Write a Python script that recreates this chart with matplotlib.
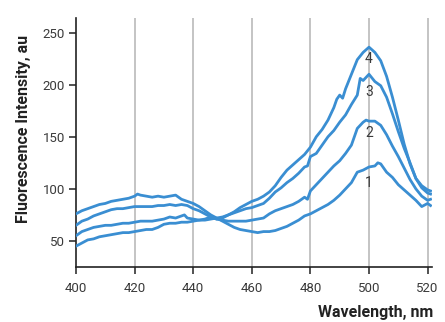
import matplotlib
matplotlib.use("Agg")
import matplotlib.pyplot as plt

plt.rcParams['font.family'] = ['Roboto', 'DejaVu Sans']

# Wavelength (nm) / intensity (au)
wl1 = [400, 402, 404, 406, 408, 410, 412, 414, 416, 418, 420, 421, 422, 424, 426, 428, 430, 432, 434, 436, 438, 440,
       442, 444, 446, 448, 450, 452, 454, 456, 458, 460, 462, 464, 466, 468, 470, 472, 474, 476, 478, 480, 482, 484,
       486, 488, 490, 492, 494, 496, 498, 500, 502, 503, 504, 506, 508, 510, 512, 514, 516, 518, 520, 521]
c1 = [76, 79, 81, 83, 85, 86, 88, 89, 90, 91, 93, 95, 94, 93, 92, 93, 92, 93, 94, 90, 88, 86,
      83, 79, 75, 72, 69, 66, 63, 61, 60, 59, 58, 59, 59, 60, 62, 64, 67, 70, 74, 76, 79, 82,
      85, 89, 94, 100, 106, 116, 118, 121, 122, 125, 124, 116, 111, 104, 99, 94, 89, 83, 86, 84]

wl2 = [400, 402, 404, 406, 408, 410, 412, 414, 416, 418, 420, 422, 424, 426, 428, 430, 432, 434, 436, 438, 440,
       442, 444, 446, 448, 450, 452, 454, 456, 458, 460, 462, 464, 466, 468, 470, 472, 474, 476, 478, 479, 480,
       482, 484, 486, 488, 490, 492, 494, 496, 497, 498, 499, 500, 502, 504, 506, 508, 510, 512, 514, 516, 518,
       520, 521]
c2 = [65, 69, 71, 74, 76, 78, 80, 81, 81, 82, 83, 83, 83, 83, 84, 84, 85, 84, 85, 84, 81,
      79, 76, 73, 71, 70, 69, 69, 69, 69, 70, 71, 72, 76, 79, 81, 83, 85, 88, 92, 90, 98,
      104, 110, 116, 122, 127, 134, 142, 158, 161, 164, 166, 165, 165, 161, 152, 141, 131, 120, 109, 100, 93,
      89, 90]

wl3 = [400, 402, 404, 406, 408, 410, 412, 414, 416, 418, 420, 422, 424, 426, 428, 430, 432, 434, 436, 437, 438,
       440, 442, 444, 446, 448, 450, 452, 454, 456, 458, 460, 462, 464, 466, 468, 470, 472, 474, 476, 478, 479,
       480, 482, 484, 486, 488, 490, 492, 494, 496, 497, 498, 499, 500, 502, 504, 506, 508, 510, 512, 514, 516,
       518, 520, 521]
c3 = [55, 59, 61, 63, 64, 65, 65, 66, 67, 67, 68, 69, 69, 69, 70, 71, 73, 72, 74, 75, 72,
      71, 70, 70, 71, 72, 73, 75, 77, 79, 81, 82, 84, 86, 91, 97, 101, 106, 110, 115, 121, 122,
      131, 134, 142, 150, 156, 164, 171, 181, 190, 206, 204, 207, 210, 203, 199, 188, 172, 155, 139, 125, 110,
      101, 96, 95]

wl4 = [400, 402, 404, 406, 408, 410, 412, 414, 416, 418, 420, 422, 424, 426, 428, 430, 432, 434, 436, 438, 440,
       442, 444, 446, 448, 450, 452, 454, 456, 458, 460, 462, 464, 466, 468, 470, 472, 474, 476, 478, 480, 482,
       484, 486, 488, 489, 490, 491, 492, 494, 496, 498, 500, 502, 504, 506, 508, 510, 512, 514, 516, 518, 520,
       521]
c4 = [45, 48, 51, 52, 54, 55, 56, 57, 58, 58, 59, 60, 61, 61, 63, 66, 67, 67, 68, 68, 69,
      70, 71, 73, 71, 72, 75, 78, 82, 85, 88, 90, 93, 97, 103, 111, 118, 123, 128, 133, 140, 150,
      157, 166, 178, 186, 190, 187, 196, 210, 224, 231, 236, 231, 223, 208, 188, 166, 143, 124, 110, 103, 99,
      98]

series = [(wl1, c1), (wl2, c2), (wl3, c3), (wl4, c4)]
curve_labels = ["1", "2", "3", "4"]
label_y = [106, 154, 193, 225]
label_x = 500

xticks = [400, 420, 440, 460, 480, 500, 520]
yticks = [50, 100, 150, 200, 250]

line_color = "#3a8ed2"
text_color = "#3a3a3a"

fig = plt.figure(figsize=(4.45, 3.22), dpi=100)
ax = fig.add_axes([76 / 445, 55 / 322, (432 - 76) / 445, (267 - 18) / 322])

for x in xticks[1:]:
    ax.axvline(x, color="#b4b4b4", lw=1.1, zorder=1)

for wl, c in series:
    ax.plot(wl, c, color=line_color, lw=2.0, zorder=3, solid_joinstyle="round")

for lab, ly in zip(curve_labels, label_y):
    ax.text(label_x, ly, lab, ha="center", va="center", fontsize=10, color=text_color, zorder=4)

ax.set_xlim(400, 521.5)
ax.set_ylim(25, 264)
ax.set_xticks(xticks)
ax.set_yticks(yticks)
for s in ["top", "right"]:
    ax.spines[s].set_visible(False)
for s in ["left", "bottom"]:
    ax.spines[s].set_color("#222222")
    ax.spines[s].set_linewidth(1.2)
ax.tick_params(axis="both", colors="#222222", labelcolor=text_color, labelsize=9.5, length=5, width=1.1)
ax.tick_params(axis="x", pad=6)
ax.tick_params(axis="y", pad=3)

fig.text(24 / 445, 1 - 129 / 322, "Fluorescence Intensity, au", rotation=90, ha="center", va="center",
         fontsize=11.5, fontweight="bold", color="#222222")
fig.text(433 / 445, 1 - 313 / 322, "Wavelength, nm", ha="right", va="center",
         fontsize=11.5, fontweight="bold", color="#222222")

fig.savefig("out.png", dpi=100)
